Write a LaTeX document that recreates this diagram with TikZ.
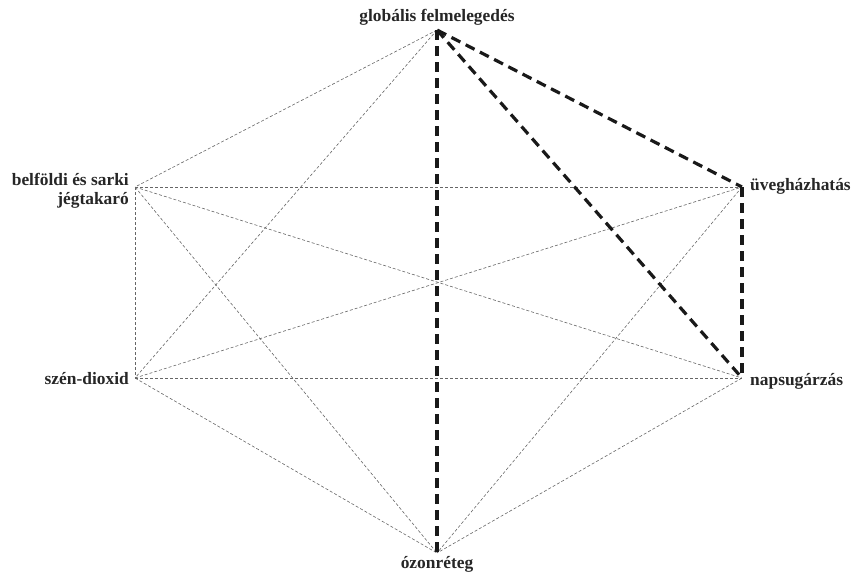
\documentclass[tikz,border=0pt]{standalone}
\usepackage{fontspec}
\setmainfont{Liberation Serif}
\begin{document}
\begin{tikzpicture}[x=1pt,y=-1pt,
  pt/.style={inner sep=0pt,minimum size=0pt},
  lbl/.style={font=\bfseries\fontsize{17.4}{19.5}\selectfont,inner sep=0pt,text=black!85},
  thin/.style={draw=black!60,line width=0.6pt,dash pattern=on 3pt off 2pt},
  thick/.style={draw=black!90,line width=3.2pt,dash pattern=on 10pt off 6pt}]
\useasboundingbox (0,0) rectangle (859,574);
\node[pt] (g) at (437,30) {};
\node[pt] (u) at (742,187) {};
\node[pt] (n) at (742,378) {};
\node[pt] (o) at (437,553) {};
\node[pt] (s) at (135,378) {};
\node[pt] (b) at (135,187) {};
\node[lbl,anchor=base] (gl) at (437,21) {globális felmelegedés};
\node[lbl,anchor=west] (ul) at (750,186) {üvegházhatás};
\node[lbl,anchor=west] (nl) at (750,381) {napsugárzás};
\node[lbl,anchor=base] (ol) at (437,568) {ózonréteg};
\node[lbl,anchor=east] (sl) at (129,379) {szén-dioxid};
\node[lbl,anchor=east,align=right] (bl) at (129,191) {belföldi és sarki\\jégtakaró};
\foreach \a/\c in {g/b,g/s,b/u,b/n,b/s,b/o,s/u,s/n,s/o,u/o,n/o}
  \draw[thin] (\a) -- (\c);
\foreach \a/\c in {g/o,g/u,g/n,u/n}
  \draw[thick] (\a) -- (\c);
\end{tikzpicture}
\end{document}
